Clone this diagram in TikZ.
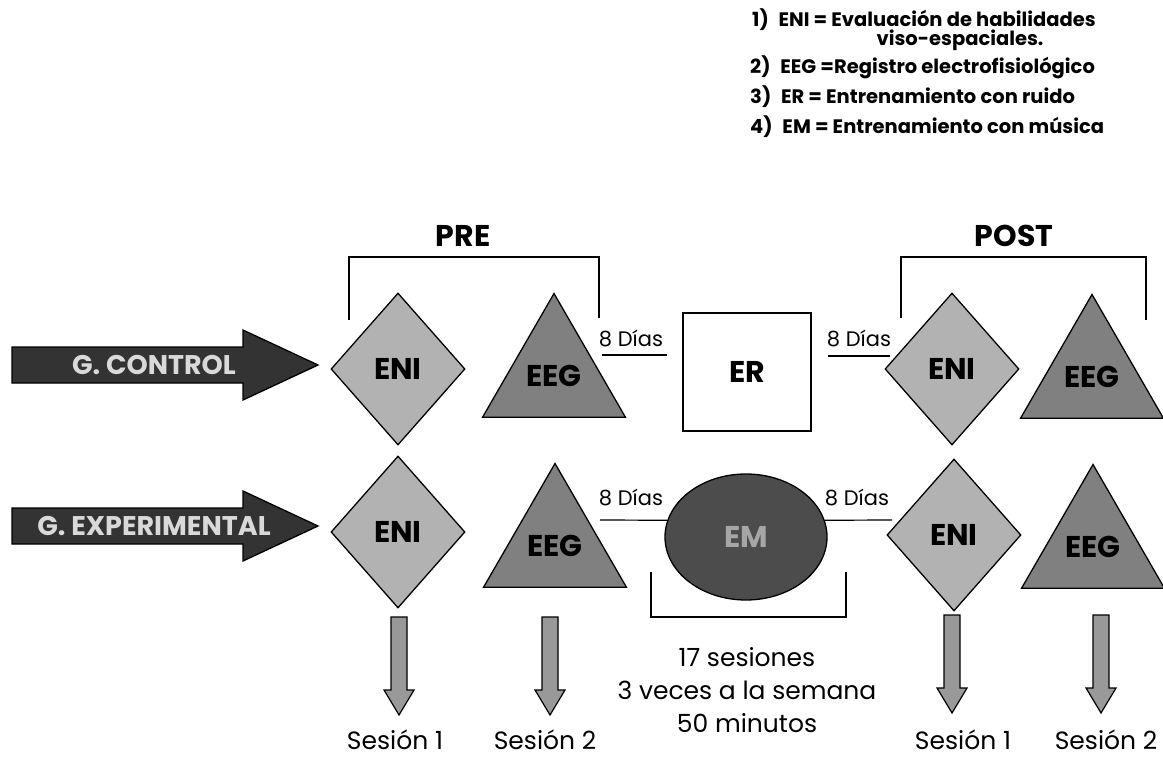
\documentclass[tikz,border=0pt]{standalone}
\usepackage{fontspec}
\setmainfont{Poppins}
\usetikzlibrary{shapes.geometric}
\begin{document}
\begin{tikzpicture}[x=1pt,y=-1pt]
 \tikzset{eni/.style={draw, diamond, line width=1.3pt, fill=black!30, minimum width=134pt, minimum height=152pt, inner sep=0pt, font=\fontsize{30}{30}\selectfont\bfseries},
   eeg/.style={draw, regular polygon, regular polygon sides=3, line width=1.3pt, fill=black!50, minimum size=165pt, inner sep=0pt, font=\fontsize{30}{30}\selectfont\bfseries},
   erbox/.style={draw, rectangle, line width=1.3pt, fill=white, minimum width=128pt, minimum height=118pt, font=\fontsize{30}{30}\selectfont\bfseries},
   emoval/.style={draw, ellipse, line width=1.3pt, fill=black!70, text=black!35, minimum width=162pt, minimum height=126pt, font=\fontsize{30}{30}\selectfont\bfseries},
   legend/.style={anchor=west, inner sep=0pt, font=\fontsize{19.5}{20}\selectfont\bfseries},
   phase/.style={font=\fontsize{30}{30}\selectfont\bfseries},
   dias/.style={inner sep=0pt, font=\fontsize{21}{24}\selectfont},
   plain/.style={inner sep=0pt, font=\fontsize{25}{33}\selectfont, align=center},
   sesion/.style={inner sep=0pt, font=\fontsize{25}{25}\selectfont},
   bracket/.style={line width=1.4pt},
   link/.style={line width=1.2pt},
   pics/grouparr/.style={code={
     \draw[line width=1.3pt, fill=black!80] (0,-18) -- (231,-18) -- (231,-35) -- (306,0) -- (231,35) -- (231,18) -- (0,18) -- cycle;
     \node[text=black!15, font=\fontsize{27}{27}\selectfont\bfseries] (-lbl) at (142,0) {#1};}},
   pics/downarr/.style={code={
     \draw[line width=1.2pt, fill=black!40] (-8,0) -- (8,0) -- (8,73) -- (15,73) -- (0,98) -- (-15,73) -- (-8,73) -- cycle;}}}
  \useasboundingbox (0,0) rectangle (1163,760);
  \node[legend] (L1) at (752,20) {1)\enspace ENI = Evaluación de habilidades};
  \node[legend, anchor=center] (L1b) at (960,40) {viso-espaciales.};
  \node[legend] (L2) at (750,67) {2)\enspace EEG =Registro electrofisiológico};
  \node[legend] (L3) at (750,97) {3)\enspace ER = Entrenamiento con ruido};
  \node[legend] (L4) at (750,127) {4)\enspace EM = Entrenamiento con música};
  \node[phase] (PRE) at (463,236) {PRE};
  \node[phase] (POST) at (1014,236) {POST};
  \draw[bracket] (349,320) -- (349,257) -- (599,257) -- (599,318);
  \draw[bracket] (901,318) -- (901,257) -- (1146,257) -- (1146,320);
  \pic (C) at (12,365) {grouparr=G. CONTROL};
  \pic (X) at (12,526) {grouparr=G. EXPERIMENTAL};
  \node[eni] (N1) at (398,369) {ENI};
  \node[eeg] (T1) at (554,376) {EEG};
  \node[erbox] (ER) at (747,372) {ER};
  \node[eni] (N2) at (952,369) {ENI};
  \node[eeg] (T2) at (1092,377) {EEG};
  \node[eni] (N3) at (398,532) {ENI};
  \node[eeg] (T3) at (555,546) {EEG};
  \node[emoval] (EM) at (746,537) {EM};
  \node[eni] (N4) at (954,535) {ENI};
  \node[eeg] (T4) at (1093,547) {EEG};
  \node[dias] (D1) at (631,338) {8 Días};
  \node[dias] (D2) at (859,338) {8 Días};
  \node[dias] (D3) at (631,497) {8 Días};
  \node[dias] (D4) at (857,497) {8 Días};
  \coordinate (a1) at (602,355);
  \coordinate (b1) at (667,355);
  \coordinate (a2) at (828,356);
  \coordinate (b2) at (890,356);
  \coordinate (a3) at (600,520);
  \coordinate (b4) at (892,520);
  \draw[link] (a1) -- (b1);
  \draw[link] (a2) -- (b2);
  \draw[link] (a3) -- (EM.168);
  \draw[link] (EM.12) -- (b4);
  \draw[bracket] (651,572) -- (651,617) -- (846,617) -- (846,572);
  \node[plain] (S) at (747,690) {17 sesiones\\3 veces a la semana\\50 minutos};
  \pic at (399,617) {downarr};
  \pic at (550,617) {downarr};
  \pic at (952,615) {downarr};
  \pic at (1101,615) {downarr};
  \node[sesion] (Q1) at (395,740) {Sesión 1};
  \node[sesion] (Q2) at (545,740) {Sesión 2};
  \node[sesion] (Q3) at (963,740) {Sesión 1};
  \node[sesion] (Q4) at (1106,740) {Sesión 2};
\end{tikzpicture}
\end{document}
